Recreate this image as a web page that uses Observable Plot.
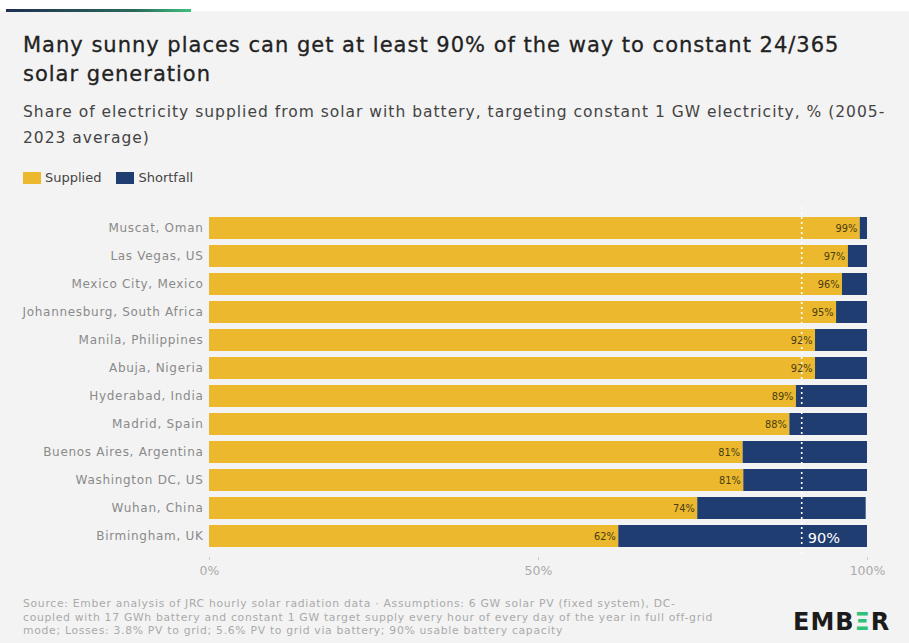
<!DOCTYPE html>
<html><head><meta charset="utf-8">
<script src="https://cdn.jsdelivr.net/npm/d3@7"></script>
<script src="https://cdn.jsdelivr.net/npm/@observablehq/plot@0.6"></script>
<style>
html,body{margin:0;padding:0;background:#fff;}
#card{position:absolute;left:0;top:11px;width:909px;height:632px;background:#f3f3f3;}
#topline{position:absolute;left:6px;top:9px;width:185px;height:3px;background:linear-gradient(90deg,#1e2f4f,#2a6a5a 70%,#3fbf7f);}
#title{position:absolute;left:23px;top:31px;font-family:"DejaVu Sans",sans-serif;font-size:21px;color:#222;line-height:29px;letter-spacing:1px;white-space:nowrap;-webkit-text-stroke:0.3px #222;}
#subtitle{position:absolute;left:23px;top:99px;font-family:"DejaVu Sans",sans-serif;font-size:15.5px;color:#444;line-height:26px;letter-spacing:1px;white-space:nowrap;}
#legend{position:absolute;left:23px;top:170px;font-family:"DejaVu Sans",sans-serif;font-size:13px;color:#444;display:flex;align-items:center;}
#legend .sw{width:18px;height:12px;display:inline-block;margin-right:4px;}
#legend .item{display:flex;align-items:center;margin-right:15px;}
#chart{position:absolute;left:0;top:202px;}
#chart g[aria-label="y-axis tick label"] text{letter-spacing:0.7px;}
#footer{position:absolute;left:23px;top:597px;font-family:"DejaVu Sans",sans-serif;font-size:10.8px;color:#aaa;line-height:13.5px;letter-spacing:0.7px;white-space:nowrap;}
#logo{position:absolute;left:793px;top:608px;font-family:"DejaVu Sans",sans-serif;font-weight:bold;font-size:24px;color:#1b1b1b;letter-spacing:1px;}
#logo span{color:#2fc27a;}
</style></head>
<body>
<div id="card"></div>
<div id="topline"></div>
<div id="title">Many sunny places can get at least 90% of the way to constant 24/365<br>solar generation</div>
<div id="subtitle">Share of electricity supplied from solar with battery, targeting constant 1 GW electricity, % (2005-<br>2023 average)</div>
<div id="legend"><div class="item"><span class="sw" style="background:#ebb82e"></span>Supplied</div><div class="item"><span class="sw" style="background:#1f3d70"></span>Shortfall</div></div>
<div id="chart"></div>
<div id="footer">Source: Ember analysis of JRC hourly solar radiation data · Assumptions: 6 GW solar PV (fixed system), DC-<br>coupled with 17 GWh battery and constant 1 GW target supply every hour of every day of the year in full off-grid<br>mode; Losses: 3.8% PV to grid; 5.6% PV to grid via battery; 90% usable battery capacity</div>
<div id="logo">EMB<span>Ξ</span>R</div>
<script>
const cities = ["Muscat, Oman","Las Vegas, US","Mexico City, Mexico","Johannesburg, South Africa","Manila, Philippines","Abuja, Nigeria","Hyderabad, India","Madrid, Spain","Buenos Aires, Argentina","Washington DC, US","Wuhan, China","Birmingham, UK"];
const supplied = [98.9,97.1,96.2,95.3,92.1,92.1,89.2,88.2,81.1,81.2,74.2,62.2];
const shortfall = [1.1,2.9,3.8,4.7,7.9,7.9,10.8,11.8,18.9,18.8,25.6,37.8];
const labels = ["99%","97%","96%","95%","92%","92%","89%","88%","81%","81%","74%","62%"];
const xTicks = [0,50,100];
const target = 90;

const rows = [];
cities.forEach((c,i)=>{
  rows.push({city:c, series:"Supplied", x1:0, x2:supplied[i]});
  rows.push({city:c, series:"Shortfall", x1:supplied[i], x2:supplied[i]+shortfall[i]});
});
const lab = cities.map((c,i)=>({city:c, x:supplied[i], label:labels[i]}));

const chart = Plot.plot({
  width:909, height:380,
  marginLeft:209, marginRight:42, marginTop:5, marginBottom:25,
  style:{background:"transparent", fontFamily:"'DejaVu Sans',sans-serif"},
  x:{domain:[0,100], ticks:xTicks, tickFormat:d=>d+"%", label:null, tickSize:3},
  y:{domain:cities, label:null, padding:0.2, tickSize:0},
  color:{domain:["Supplied","Shortfall"], range:["#ebb82e","#1f3d70"]},
  marks:[
    Plot.barX(rows,{y:"city", x1:"x1", x2:"x2", fill:"series"}),
    Plot.ruleX([target],{stroke:"white", strokeWidth:1.6, strokeDasharray:"2,3"}),
    Plot.text(lab,{y:"city", x:"x", text:"label", textAnchor:"end", dx:-3, fill:"#4a3c10", fontSize:9.8}),
    Plot.text([{city:cities[cities.length-1], x:target}],{y:"city", x:"x", text:()=>"90%", textAnchor:"start", dx:6, dy:2, fill:"white", fontSize:14.5}),
    Plot.axisY({tickSize:0, tickPadding:6, fontSize:12, color:"#8a8a8a"}),
    Plot.axisX({ticks:xTicks, tickFormat:d=>d+"%", tickSize:3, fontSize:12.5, color:"#aaa", stroke:"#ccc", tickPadding:6})
  ]
});
document.getElementById("chart").appendChild(chart);
</script>
</body></html>
